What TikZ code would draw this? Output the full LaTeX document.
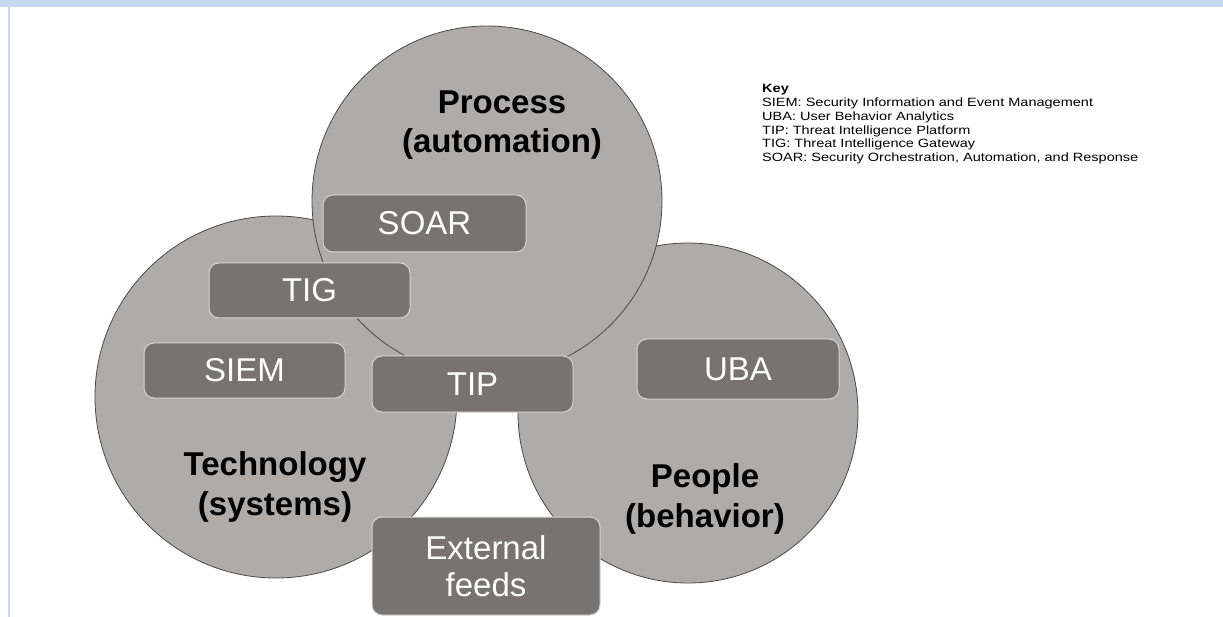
\documentclass[tikz,border=0pt]{standalone}
\usepackage{fontspec}
\setmainfont{Liberation Sans}
\definecolor{ringfill}{HTML}{AFABA9}
\definecolor{ringline}{HTML}{4A4A4A}
\definecolor{tagfill}{HTML}{777372}
\definecolor{tagline}{HTML}{D6D4D4}
\definecolor{bandblue}{HTML}{C6D9F1}
\tikzset{
  ring/.style={circle, fill=ringfill, draw=ringline, line width=0.8pt, inner sep=0pt},
  tag/.style={rectangle, rounded corners=10pt, fill=tagfill, draw=tagline, line width=1pt,
    text=white, font=\fontsize{33}{37}\selectfont, align=center, inner sep=0pt},
  ringlabel/.style={font=\bfseries\fontsize{33}{39.5}\selectfont, align=center, inner sep=0pt}
}
\begin{document}
\begin{tikzpicture}[x=1pt,y=-1pt]
\useasboundingbox[fill=white] (0,0) rectangle (1223,617);
% page frame: title band and left rule
\fill[bandblue] (0,0) rectangle (1223,7);
\fill[bandblue] (8,7) rectangle (9.6,617);

% the three circles
\node[ring, minimum size=362pt] (tech) at (276,397) {};
\node[ring, minimum size=340pt] (people) at (688,413) {};
\node[ring, minimum size=350pt] (process) at (487,201) {};

% circle captions
\node[ringlabel] (processlbl) at (502,125) {Process\\(automation)};
\node[ringlabel] (techlbl) at (275,487) {Technology\\(systems)};
\node[ringlabel] (peoplelbl) at (705,499) {People\\(behavior)};

% component tags
\node[tag, minimum width=203pt, minimum height=57pt] (soar) at (424.5,223.5) {SOAR};
\node[tag, minimum width=201pt, minimum height=55pt] (tig) at (309.5,290.5) {TIG};
\node[tag, minimum width=201pt, minimum height=55pt] (siem) at (244.5,370.5) {SIEM};
\node[tag, minimum width=201pt, minimum height=56pt] (tip) at (472.5,384) {TIP};
\node[tag, minimum width=202pt, minimum height=60pt] (uba) at (738,369) {UBA};
\node[tag, minimum width=228pt, minimum height=98pt] (feeds) at (486,566) {External\\feeds};

% key
\node[anchor=base west, inner sep=0pt] (key) at (762,93) {\scalebox{1.21}[1]{\fontsize{12}{13.7}\selectfont
  \begin{tabular}[t]{@{}l@{}}
  \textbf{Key}\\
  SIEM: Security Information and Event Management\\
  UBA: User Behavior Analytics\\
  TIP: Threat Intelligence Platform\\
  TIG: Threat Intelligence Gateway\\
  SOAR: Security Orchestration, Automation, and Response
  \end{tabular}}};
\end{tikzpicture}
\end{document}
